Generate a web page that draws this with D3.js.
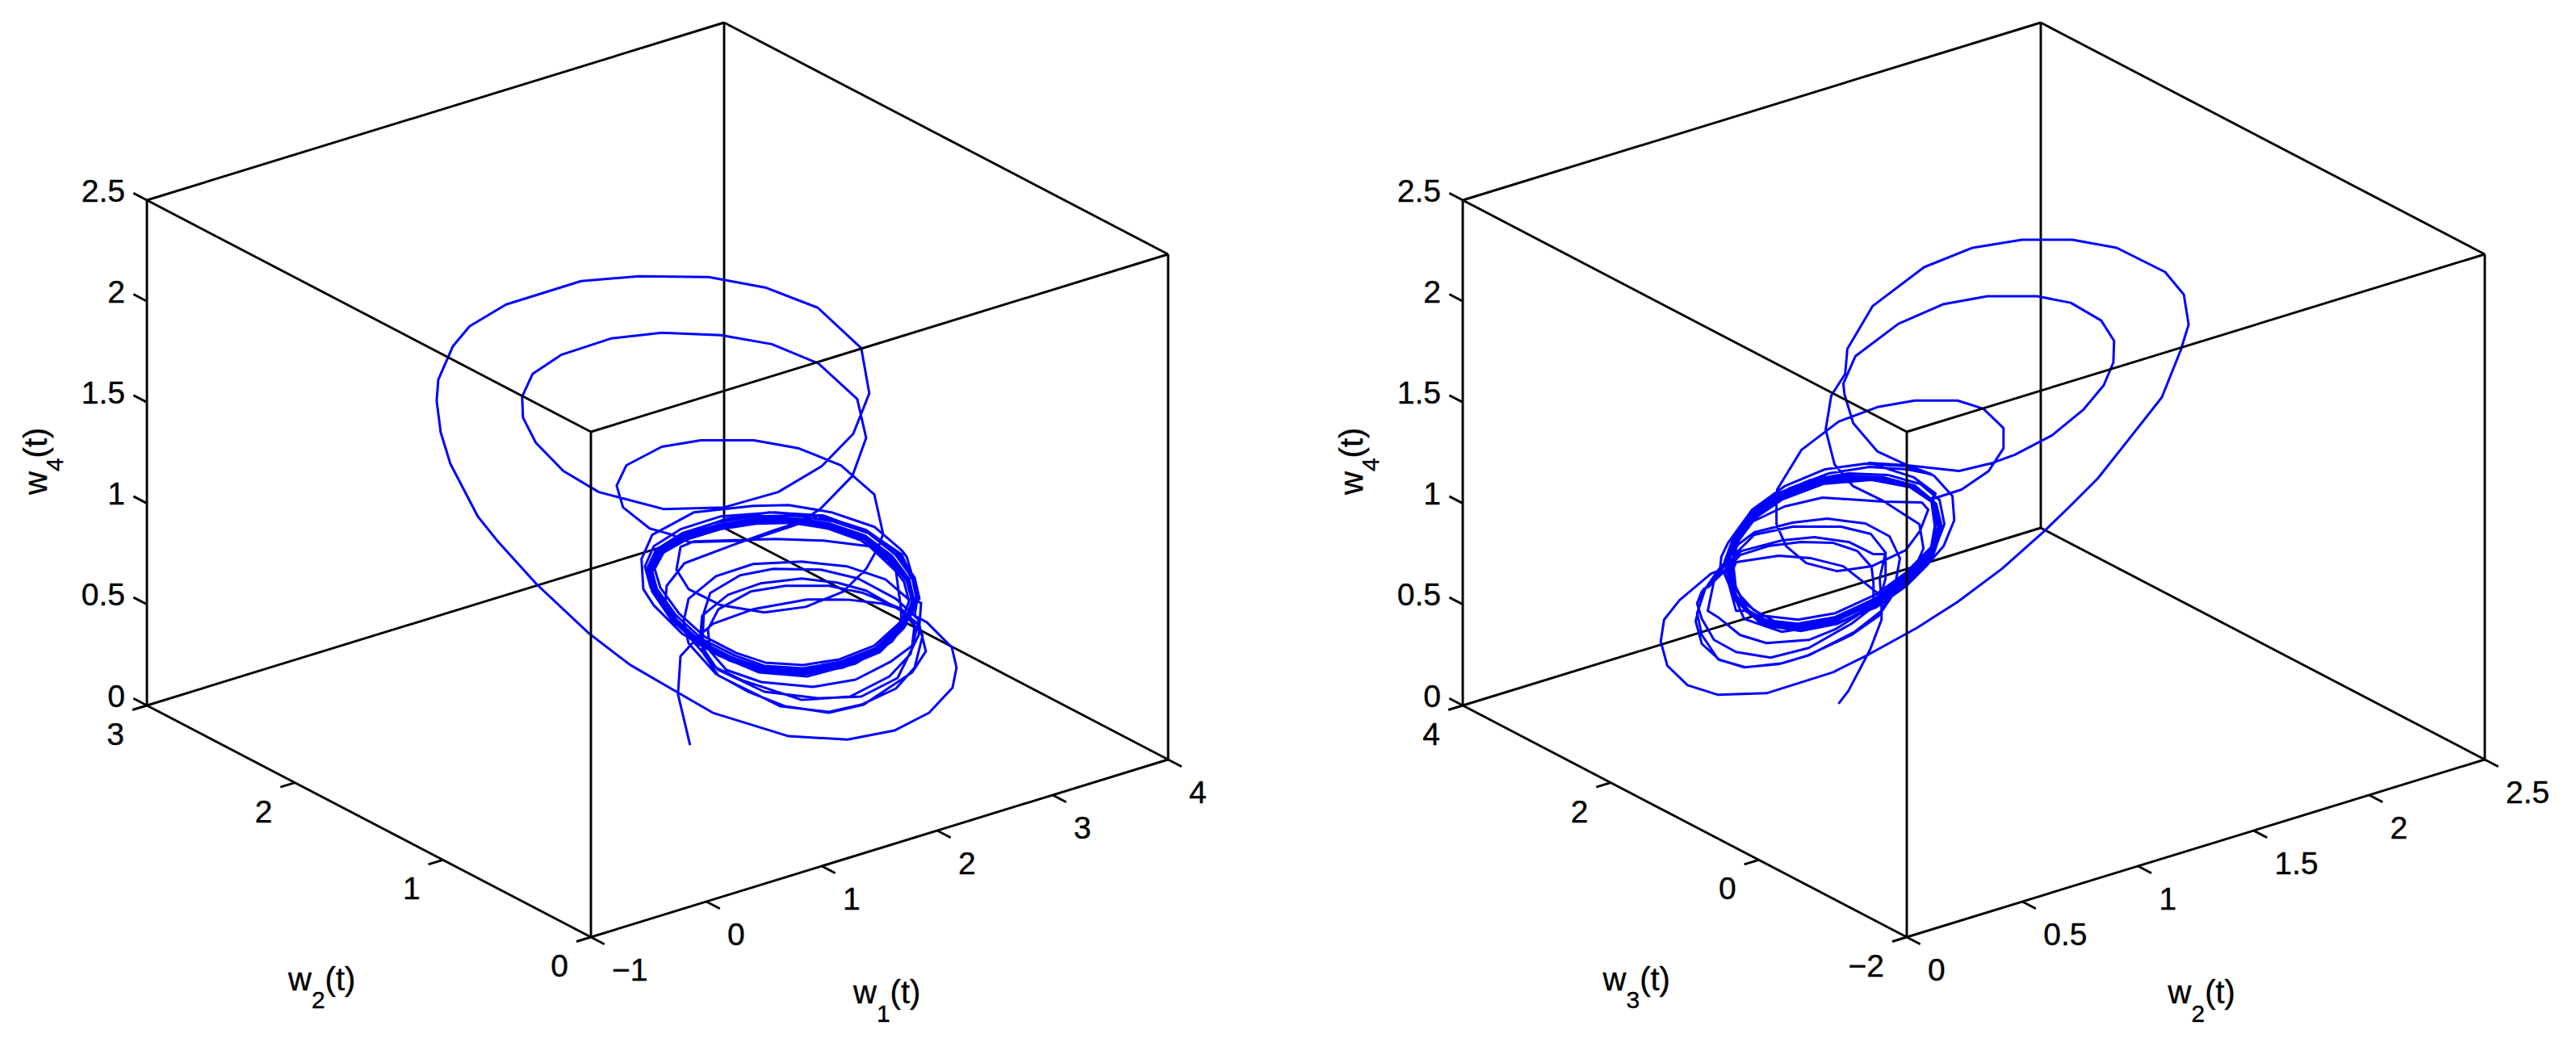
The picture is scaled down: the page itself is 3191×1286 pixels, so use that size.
<!DOCTYPE html>
<html><head><meta charset="utf-8">
<script src="https://cdn.jsdelivr.net/npm/d3@7"></script>
<style>html,body{margin:0;padding:0;background:#fff;overflow:hidden}svg{display:block}text{font-family:"Liberation Sans",Arial,sans-serif;fill:#000;stroke:#000;stroke-width:0.4}</style>
</head><body><div id="chart"></div>
<script>
// tick labels / axis domains
const w1Ticks=[-1,0,1,2,3,4], w2TicksLeft=[0,1,2,3], w2TicksRight=[0,0.5,1,1.5,2,2.5], w3Ticks=[-2,0,2,4], w4Ticks=[0,0.5,1,1.5,2,2.5];

// left panel trajectory, rows are [w1, w2, w4]
const leftStart=[[1.478,1.263,0.032],[1.412,1.293,0.284],[1.426,1.287,0.472],[1.531,1.239,0.576],[1.602,1.206,0.632],[1.822,1.105,0.704],[2.116,0.970,0.752],[2.336,0.868,0.752],[2.526,0.781,0.732],[2.631,0.733,0.704],[2.702,0.700,0.632],[2.688,0.706,0.524],[2.570,0.761,0.444],[2.380,0.848,0.356],[2.147,0.955,0.320],[1.866,1.085,0.344],[1.676,1.172,0.404],[1.588,1.213,0.496]];
const leftLowA=[[1.575,1.218,0.604],[1.632,1.192,0.704],[1.808,1.111,0.792],[1.998,1.024,0.820],[2.235,0.915,0.820],[2.424,0.828,0.784],[2.614,0.741,0.712],[2.719,0.692,0.632],[2.680,0.710,0.484],[2.565,0.763,0.372],[2.350,0.862,0.272],[2.086,0.983,0.256],[1.764,1.132,0.352],[1.619,1.198,0.416],[1.531,1.239,0.536]];
const leftLowB=[[1.544,1.233,0.672],[1.685,1.168,0.776],[1.861,1.087,0.832],[2.086,0.983,0.856],[2.279,0.895,0.836],[2.438,0.822,0.796],[2.631,0.733,0.696],[2.746,0.680,0.576],[2.702,0.700,0.416],[2.600,0.747,0.312],[2.411,0.834,0.232],[2.235,0.915,0.196],[1.971,1.036,0.224],[1.632,1.192,0.376],[1.544,1.233,0.496]];
const leftLowC=[[1.553,1.229,0.684],[1.588,1.213,0.784],[1.751,1.138,0.872],[1.932,1.054,0.904],[2.191,0.935,0.900],[2.394,0.842,0.856],[2.600,0.747,0.756],[2.719,0.692,0.656],[2.763,0.672,0.496],[2.688,0.706,0.392],[2.424,0.828,0.232],[2.235,0.915,0.192],[1.998,1.024,0.224],[1.795,1.117,0.296],[1.619,1.198,0.384],[1.470,1.267,0.536]];
const leftLowD=[[1.443,1.279,0.644],[1.470,1.267,0.756],[1.619,1.198,0.868],[1.822,1.105,0.928],[2.086,0.983,0.940],[2.336,0.868,0.916],[2.543,0.773,0.852],[2.666,0.717,0.756],[2.737,0.684,0.736],[2.724,0.690,0.576],[2.609,0.743,0.364],[2.411,0.834,0.272],[2.174,0.943,0.264],[1.883,1.077,0.296],[1.632,1.192,0.404],[1.465,1.269,0.576]];
const leftRise=[[1.342,1.326,0.712],[1.351,1.322,0.820],[1.448,1.277,0.932],[1.707,1.158,1.020],[1.940,1.051,1.096],[2.174,0.943,1.164],[2.438,0.822,1.096],[2.600,0.747,0.992],[2.702,0.700,0.832],[2.710,0.696,0.752],[2.644,0.727,0.632],[2.499,0.793,0.496],[2.292,0.889,0.424],[2.103,0.976,0.396],[1.822,1.105,0.416],[1.619,1.198,0.504],[1.399,1.299,0.632],[1.289,1.350,0.776],[1.250,1.368,0.896],[1.311,1.340,1.004],[1.470,1.267,1.084],[1.676,1.172,1.152],[1.910,1.064,1.184],[2.204,0.929,1.168],[2.455,0.814,1.084],[2.631,0.733,0.976],[2.719,0.692,0.792],[2.688,0.706,0.684],[2.578,0.757,0.544],[2.380,0.848,0.436],[2.116,0.970,0.372],[1.852,1.091,0.392],[1.632,1.192,0.476],[1.434,1.283,0.584],[1.280,1.354,0.724]];
const leftOuter=[[1.223,1.380,0.804],[1.214,1.385,0.952],[1.272,1.358,1.072],[1.500,1.253,1.184],[1.822,1.105,1.216],[2.015,1.016,1.220],[2.248,0.909,1.184],[2.482,0.801,1.112],[2.631,0.733,0.996],[2.658,0.720,0.964],[2.719,0.692,0.776],[2.702,0.700,0.672]];
const leftBig=[[2.768,0.670,0.640],[2.904,0.607,0.516],[2.930,0.595,0.416],[2.908,0.605,0.316],[2.781,0.664,0.192],[2.592,0.751,0.104],[2.336,0.868,0.060],[2.015,1.016,0.076],[1.602,1.206,0.192],[1.404,1.297,0.296],[1.153,1.413,0.428],[0.928,1.516,0.584],[0.642,1.648,0.828],[0.427,1.747,1.044],[0.321,1.795,1.164],[0.172,1.864,1.424],[0.119,1.888,1.580],[0.097,1.898,1.736],[0.106,1.894,1.840],[0.185,1.858,2.004],[0.277,1.816,2.104],[0.475,1.724,2.212],[0.884,1.536,2.328],[1.197,1.392,2.352],[1.580,1.216,2.348],[1.888,1.075,2.296],[2.174,0.943,2.196],[2.411,0.834,1.996],[2.455,0.814,1.772],[2.367,0.854,1.572],[2.196,0.933,1.412],[1.958,1.042,1.284],[1.663,1.178,1.208],[1.333,1.330,1.200],[0.981,1.492,1.284],[0.788,1.581,1.388],[0.638,1.650,1.528],[0.568,1.682,1.652],[0.563,1.684,1.756],[0.620,1.658,1.868],[0.779,1.585,1.964],[1.047,1.461,2.044],[1.324,1.334,2.072],[1.646,1.186,2.060],[1.923,1.058,2.016],[2.178,0.941,1.920],[2.389,0.844,1.744],[2.438,0.822,1.552],[2.363,0.856,1.364],[2.187,0.937,1.200],[2.050,1.000,1.120],[1.795,1.117,1.044],[1.474,1.265,1.036],[1.368,1.314,1.076],[1.258,1.364,1.104]];
const leftThird=[[1.113,1.431,1.208],[1.078,1.447,1.316],[1.131,1.423,1.416],[1.324,1.334,1.508],[1.536,1.236,1.540],[1.826,1.103,1.540],[2.072,0.990,1.500],[2.301,0.885,1.416],[2.482,0.801,1.272],[2.530,0.779,1.076],[2.499,0.793,1.004],[2.438,0.822,0.904],[2.314,0.879,0.792],[2.108,0.973,0.716],[1.883,1.077,0.688],[1.646,1.186,0.724],[1.470,1.267,0.804],[1.404,1.297,0.900],[1.426,1.287,1.012],[1.500,1.253,1.040],[1.940,1.051,1.052],[2.204,0.929,1.044],[2.455,0.814,1.016],[2.600,0.747,0.892],[2.627,0.735,0.712]];
const leftBandA=[[2.631,0.733,0.616],[2.499,0.793,0.504],[2.301,0.885,0.432],[2.094,0.980,0.400],[1.883,1.077,0.412],[1.712,1.155,0.464],[1.536,1.236,0.544],[1.390,1.304,0.664],[1.289,1.350,0.796],[1.258,1.364,0.896],[1.311,1.340,0.992],[1.448,1.277,1.068],[1.624,1.196,1.120],[1.830,1.101,1.152],[2.037,1.006,1.156],[2.240,0.913,1.128],[2.433,0.824,1.068],[2.578,0.757,0.968],[2.671,0.714,0.856],[2.697,0.702,0.752]];
const leftBandB=[[2.644,0.727,0.612],[2.512,0.787,0.492],[2.314,0.879,0.416],[2.103,0.976,0.384],[1.874,1.081,0.396],[1.698,1.162,0.448],[1.522,1.243,0.532],[1.373,1.311,0.656],[1.272,1.358,0.792],[1.241,1.372,0.900],[1.294,1.348,1.000],[1.434,1.283,1.080],[1.615,1.200,1.132],[1.826,1.103,1.164],[2.042,1.004,1.168],[2.253,0.907,1.140],[2.451,0.816,1.080],[2.596,0.749,0.976],[2.688,0.706,0.860],[2.715,0.694,0.744]];
const leftBandC=[[2.622,0.737,0.608],[2.486,0.799,0.492],[2.292,0.889,0.420],[2.090,0.982,0.388],[1.888,1.075,0.400],[1.720,1.152,0.452],[1.544,1.233,0.532],[1.404,1.297,0.652],[1.302,1.344,0.784],[1.272,1.358,0.892],[1.324,1.334,0.980],[1.461,1.271,1.056],[1.632,1.192,1.108],[1.839,1.097,1.140],[2.033,1.008,1.144],[2.231,0.917,1.116],[2.420,0.830,1.056],[2.565,0.763,0.956],[2.658,0.720,0.844],[2.688,0.706,0.744]];
const leftBandD=[[2.653,0.723,0.624],[2.521,0.783,0.504],[2.323,0.874,0.424],[2.112,0.971,0.392],[1.874,1.081,0.408],[1.690,1.166,0.464],[1.509,1.249,0.552],[1.360,1.317,0.676],[1.263,1.362,0.812],[1.232,1.376,0.916],[1.280,1.354,1.016],[1.426,1.287,1.100],[1.646,1.186,1.164],[1.940,1.051,1.184],[2.204,0.929,1.164],[2.438,0.822,1.096],[2.609,0.743,0.984],[2.702,0.700,0.860],[2.728,0.688,0.756]];
const leftBandF=[[2.614,0.741,0.632],[2.482,0.801,0.524],[2.292,0.889,0.456],[2.094,0.980,0.428],[1.888,1.075,0.440],[1.729,1.148,0.488],[1.558,1.226,0.568],[1.417,1.291,0.684],[1.316,1.338,0.812],[1.285,1.352,0.904],[1.333,1.330,0.984],[1.465,1.269,1.052],[1.637,1.190,1.100],[1.839,1.097,1.128],[2.033,1.008,1.132],[2.226,0.919,1.104],[2.411,0.834,1.044],[2.556,0.767,0.948],[2.644,0.727,0.840],[2.671,0.714,0.744]];
const leftBandG=[[2.622,0.737,0.624],[2.490,0.798,0.512],[2.297,0.886,0.444],[2.094,0.980,0.412],[1.883,1.077,0.424],[1.720,1.152,0.476],[1.544,1.233,0.556],[1.399,1.299,0.676],[1.298,1.346,0.804],[1.267,1.360,0.900],[1.320,1.336,0.988],[1.456,1.273,1.060],[1.628,1.194,1.112],[1.835,1.099,1.136],[2.037,1.006,1.140],[2.235,0.915,1.112],[2.424,0.828,1.052],[2.570,0.761,0.952],[2.662,0.718,0.844],[2.688,0.706,0.748]];
const leftBandE=[[2.636,0.730,0.612],[2.504,0.791,0.500],[2.306,0.882,0.428],[2.099,0.978,0.396],[1.879,1.079,0.404],[1.707,1.158,0.456],[1.531,1.239,0.540],[1.386,1.305,0.660],[1.285,1.352,0.792],[1.254,1.366,0.892],[1.307,1.342,0.988],[1.443,1.279,1.064],[1.619,1.198,1.116],[1.830,1.101,1.144],[2.037,1.006,1.148],[2.240,0.913,1.120],[2.429,0.826,1.060],[2.574,0.759,0.960],[2.666,0.717,0.848],[2.693,0.704,0.748],[2.627,0.735,0.604],[2.495,0.795,0.496],[2.297,0.886,0.424],[2.094,0.980,0.392]];

// right panel trajectory, rows are [w2, w3, w4]
const rightStart=[[0.783,1.368,0.236],[0.810,1.319,0.300],[0.869,1.210,0.504],[0.900,1.153,0.652],[0.900,1.153,0.736],[0.895,1.162,0.856],[0.911,1.133,0.984],[0.871,1.206,1.076],[0.790,1.355,1.112],[0.658,1.598,1.112],[0.554,1.790,1.072],[0.510,1.871,0.992],[0.482,1.922,0.912],[0.444,1.992,0.844],[0.427,2.023,0.696],[0.455,1.972,0.664],[0.515,1.861,0.576],[0.587,1.729,0.536],[0.702,1.517,0.552],[0.774,1.385,0.604],[0.834,1.275,0.672],[0.878,1.193,0.736]];
const rightLowA=[[0.878,1.193,0.832],[0.873,1.203,0.912],[0.834,1.275,0.992],[0.768,1.396,1.032],[0.680,1.558,1.036],[0.592,1.720,1.016],[0.515,1.861,0.972],[0.475,1.935,0.896],[0.438,2.003,0.832],[0.411,2.053,0.792],[0.398,2.077,0.732],[0.411,2.053,0.656],[0.444,1.992,0.552],[0.504,1.882,0.492],[0.598,1.709,0.464],[0.702,1.517,0.512],[0.818,1.304,0.632],[0.893,1.166,0.736],[0.911,1.133,0.856],[0.911,1.133,0.976]];
const rightLowB=[[0.878,1.193,0.976],[0.812,1.315,1.036],[0.717,1.490,1.060],[0.629,1.652,1.044],[0.519,1.854,0.992],[0.475,1.935,0.924],[0.431,2.016,0.816],[0.416,2.044,0.804],[0.394,2.084,0.644],[0.411,2.053,0.532],[0.460,1.963,0.452],[0.530,1.834,0.416],[0.629,1.652,0.436],[0.702,1.517,0.476],[0.827,1.287,0.592],[0.900,1.153,0.696],[0.939,1.081,0.844],[0.950,1.061,0.956]];
const rightLowC=[[0.922,1.113,1.064],[0.856,1.234,1.128],[0.752,1.425,1.152],[0.658,1.598,1.132],[0.554,1.790,1.084],[0.510,1.871,1.024],[0.482,1.922,0.952],[0.455,1.972,0.896],[0.420,2.036,0.804],[0.398,2.077,0.684],[0.411,2.053,0.576],[0.455,1.972,0.456],[0.526,1.841,0.416],[0.620,1.668,0.432],[0.695,1.530,0.472],[0.818,1.304,0.576],[0.893,1.166,0.672],[0.937,1.085,0.792]];
const rightLowD=[[0.889,1.173,0.784],[0.796,1.344,0.916],[0.708,1.506,0.956],[0.620,1.668,0.968],[0.504,1.882,0.936],[0.482,1.922,0.844],[0.504,1.882,0.696],[0.532,1.830,0.696],[0.592,1.720,0.644],[0.673,1.571,0.616],[0.774,1.385,0.656],[0.878,1.193,0.752],[0.966,1.032,0.864],[1.032,0.910,0.992],[1.054,0.870,1.112],[1.038,0.899,1.232],[0.988,0.991,1.312],[0.906,1.142,1.352],[0.805,1.328,1.356],[0.702,1.517,1.324],[0.614,1.679,1.256],[0.548,1.801,1.164],[0.497,1.894,1.032],[0.477,1.931,0.936],[0.482,1.922,0.856],[0.497,1.894,0.776]];
const rightOuter=[[0.526,1.841,0.656],[0.629,1.652,0.592],[0.774,1.385,0.632],[0.884,1.182,0.712],[0.966,1.032,0.816],[1.025,0.923,0.924],[1.069,0.842,1.016],[1.098,0.789,1.144],[1.093,0.798,1.264],[1.043,0.890,1.364],[0.966,1.032,1.412],[0.856,1.234,1.424],[0.746,1.436,1.396],[0.636,1.639,1.312],[0.548,1.801,1.196],[0.482,1.922,1.032],[0.464,1.955,0.964],[0.460,1.963,0.896]];
const rightBig=[[0.436,2.007,0.880],[0.350,2.165,0.748],[0.308,2.242,0.652],[0.299,2.259,0.544],[0.317,2.226,0.424],[0.372,2.125,0.328],[0.455,1.972,0.280],[0.587,1.729,0.288],[0.768,1.396,0.392],[0.865,1.217,0.480],[0.997,0.975,0.612],[1.107,0.772,0.740],[1.228,0.550,0.904],[1.344,0.336,1.092],[1.410,0.215,1.208],[1.489,0.069,1.352],[1.571,-0.082,1.540],[1.663,-0.251,1.752],[1.714,-0.345,1.984],[1.736,-0.385,2.112],[1.723,-0.361,2.260],[1.672,-0.267,2.372],[1.540,-0.025,2.492],[1.419,0.198,2.532],[1.283,0.448,2.532],[1.148,0.697,2.492],[1.016,0.940,2.396],[0.876,1.197,2.204],[0.807,1.324,1.992],[0.801,1.335,1.868],[0.763,1.405,1.760],[0.748,1.433,1.592],[0.772,1.388,1.420],[0.823,1.295,1.312],[0.904,1.146,1.240],[1.003,0.963,1.124],[1.014,0.943,1.004],[0.988,0.991,0.896],[0.959,1.044,0.816]];
const rightBridge=[[0.878,1.193,0.732],[0.774,1.385,0.644],[0.669,1.578,0.604],[0.570,1.760,0.636],[0.504,1.882,0.744],[0.473,1.939,0.876],[0.493,1.902,1.036],[0.559,1.780,1.188],[0.647,1.619,1.300],[0.757,1.416,1.376],[0.867,1.214,1.408],[0.970,1.024,1.396],[1.036,0.903,1.372]];
const rightSecond=[[0.970,1.024,1.416],[0.889,1.173,1.484],[0.823,1.295,1.624],[0.799,1.339,1.768],[0.796,1.344,1.820],[0.829,1.284,1.956],[0.946,1.068,2.116],[1.067,0.846,2.212],[1.188,0.623,2.252],[1.324,0.373,2.252],[1.415,0.205,2.220],[1.498,0.053,2.132],[1.533,-0.012,2.032],[1.531,-0.008,1.924],[1.505,0.040,1.812],[1.450,0.141,1.692],[1.364,0.299,1.564],[1.263,0.485,1.468],[1.203,0.595,1.428],[1.111,0.765,1.388],[0.970,1.024,1.416],[0.865,1.217,1.428],[0.988,0.991,1.356],[1.047,0.882,1.276],[1.036,0.903,1.248]];
const rightThird=[[1.118,0.752,1.296],[1.192,0.616,1.388],[1.232,0.542,1.500],[1.232,0.542,1.600],[1.177,0.643,1.696],[1.107,0.772,1.736],[0.990,0.987,1.736],[0.889,1.173,1.704],[0.783,1.368,1.632],[0.682,1.554,1.492],[0.616,1.676,1.296],[0.614,1.679,1.232],[0.614,1.679,1.124],[0.640,1.631,1.016],[0.695,1.530,0.932],[0.779,1.376,0.892],[0.873,1.203,0.916],[0.966,1.032,0.996],[1.005,0.960,1.092],[1.027,0.919,1.196],[1.010,0.951,1.232],[0.906,1.142,1.236],[0.739,1.449,1.256],[0.636,1.639,1.212],[0.543,1.810,1.132],[0.504,1.882,1.032]];
const rightBandA=[[0.484,1.918,0.844],[0.499,1.891,0.764],[0.535,1.825,0.688],[0.594,1.716,0.636],[0.675,1.567,0.608],[0.777,1.379,0.648],[0.878,1.193,0.744],[0.968,1.028,0.860],[1.034,0.906,0.988],[1.058,0.862,1.112],[1.043,0.890,1.236],[0.990,0.987,1.316],[0.906,1.142,1.356],[0.805,1.328,1.364],[0.702,1.517,1.332],[0.612,1.683,1.264],[0.543,1.810,1.172],[0.493,1.902,1.040],[0.473,1.939,0.940]];
const rightBandB=[[0.491,1.906,0.836],[0.508,1.874,0.756],[0.543,1.810,0.676],[0.598,1.709,0.620],[0.680,1.558,0.596],[0.781,1.372,0.632],[0.882,1.186,0.724],[0.975,1.015,0.844],[1.041,0.894,0.972],[1.065,0.849,1.104],[1.049,0.879,1.224],[0.997,0.975,1.304],[0.911,1.133,1.344],[0.807,1.324,1.348],[0.706,1.510,1.320],[0.618,1.672,1.252],[0.552,1.793,1.160],[0.502,1.885,1.028],[0.482,1.922,0.932]];
const rightBandC=[[0.495,1.898,0.844],[0.515,1.861,0.772],[0.552,1.793,0.700],[0.609,1.688,0.644],[0.686,1.547,0.624],[0.785,1.365,0.664],[0.887,1.177,0.756],[0.979,1.008,0.876],[1.045,0.886,1.004],[1.071,0.838,1.124],[1.058,0.862,1.244],[1.005,0.960,1.324],[0.917,1.122,1.368],[0.812,1.315,1.376],[0.708,1.506,1.344],[0.618,1.672,1.276],[0.548,1.801,1.180],[0.497,1.894,1.048],[0.477,1.931,0.948]];
const rightBandE=[[0.497,1.894,0.912],[0.504,1.882,0.804],[0.526,1.841,0.736],[0.576,1.749,0.672],[0.673,1.571,0.652],[0.774,1.385,0.684],[0.884,1.182,0.776],[0.966,1.032,0.884],[1.038,0.899,1.016],[1.047,0.882,1.124],[1.038,0.899,1.244],[0.981,1.004,1.316],[0.871,1.206,1.352],[0.739,1.449,1.332],[0.629,1.652,1.256],[0.554,1.790,1.164],[0.504,1.882,1.044]];
const rightBandF=[[0.491,1.906,0.900],[0.499,1.891,0.784],[0.521,1.850,0.716],[0.574,1.753,0.652],[0.671,1.574,0.632],[0.772,1.388,0.664],[0.882,1.186,0.756],[0.966,1.032,0.872],[1.034,0.906,1.000],[1.045,0.886,1.116],[1.036,0.903,1.236],[0.977,1.011,1.308],[0.873,1.203,1.344],[0.741,1.445,1.324],[0.631,1.648,1.248],[0.557,1.784,1.156],[0.508,1.874,1.036]];
const rightBandD=[[0.486,1.915,0.852],[0.504,1.882,0.772],[0.539,1.817,0.696],[0.596,1.712,0.640],[0.678,1.562,0.612],[0.779,1.376,0.652],[0.880,1.190,0.736],[0.970,1.024,0.852],[1.036,0.903,0.980],[1.060,0.859,1.108],[1.045,0.886,1.228],[0.992,0.984,1.308],[0.909,1.136,1.348],[0.807,1.324,1.356],[0.704,1.514,1.324],[0.616,1.676,1.260],[0.548,1.801,1.168],[0.497,1.894,1.036],[0.480,1.926,0.940]];

const leftTrace=[].concat(leftStart,leftLowA,leftLowB,leftLowC,leftLowD,leftRise,leftOuter,leftBig,leftThird,leftBandA,leftBandB,leftBandC,leftBandD,leftBandF,leftBandG,leftBandE);
const rightTrace=[].concat(rightStart,rightLowA,rightLowB,rightLowC,rightLowD,rightOuter,rightBig,rightBridge,rightSecond,rightThird,rightBandA,rightBandB,rightBandC,rightBandE,rightBandF,rightBandD);

const W=3191,H=1286,h3=626,tickLen=[16.7,8.7],tickX=[18,5.5];
const svg=d3.select("#chart").append("svg").attr("width",W).attr("height",H).style("background","#fff");

function panel(cfg){
  const g=svg.append("g");
  const fx=d3.scaleLinear().domain(cfg.xDom).range([0,1]);
  const fy=d3.scaleLinear().domain(cfg.yDom).range([0,1]);
  const fz=d3.scaleLinear().domain([0,2.5]).range([0,h3]);
  const F=cfg.F,R=cfg.R,L=cfg.L;
  const P=(x,y,z)=>[F[0]+fx(x)*(R[0]-F[0])+fy(y)*(L[0]-F[0]),
                    F[1]+fx(x)*(R[1]-F[1])+fy(y)*(L[1]-F[1])-fz(z)];
  const [x0,x1]=cfg.xDom,[y0,y1]=cfg.yDom;
  const black=(a,b,w)=>g.append("line").attr("x1",a[0]).attr("y1",a[1]).attr("x2",b[0]).attr("y2",b[1]).attr("stroke","#000").attr("stroke-width",w||2.9);
  // rear edges (below the curve)
  black(P(x0,y1,0),P(x1,y1,0)); black(P(x1,y0,0),P(x1,y1,0));
  black(P(x1,y1,0),P(x1,y1,2.5));
  black(P(x0,y1,2.5),P(x1,y1,2.5)); black(P(x1,y0,2.5),P(x1,y1,2.5));
  black(P(x0,y1,0),P(x0,y1,2.5)); black(P(x1,y0,0),P(x1,y0,2.5));
  // curve
  g.append("path").datum(cfg.trace).attr("fill","none").attr("stroke","#0000ff").attr("stroke-width",3).attr("stroke-linejoin","round")
    .attr("d",d3.line().x(d=>P(d[0],d[1],d[2])[0]).y(d=>P(d[0],d[1],d[2])[1]));
  // front edges (above the curve)
  black(P(x0,y0,0),P(x0,y0,2.5));
  black(P(x0,y0,2.5),P(x0,y1,2.5)); black(P(x0,y0,2.5),P(x1,y0,2.5));
  black(P(x0,y0,0),P(x0,y1,0)); black(P(x0,y0,0),P(x1,y0,0));
  const fmt=v=>String(v).replace("-","\u2212");
  const txt=(x,y,s,anchor)=>g.append("text").attr("x",x).attr("y",y).attr("text-anchor",anchor).attr("font-size",39).text(s);
  cfg.xTicks.forEach(v=>{const p=P(v,y0,0);black(p,[p[0]+tickLen[0],p[1]+tickLen[1]]);txt(p[0]+26,p[1]+54,fmt(v),"start");});
  cfg.yTicks.forEach(v=>{const p=P(x0,v,0);black(p,[p[0]-tickX[0],p[1]+tickX[1]]);txt(p[0]-28,p[1]+49,fmt(v),"end");});
  w4Ticks.forEach(v=>{const p=P(x0,y1,v);black(p,[p[0]-tickLen[0],p[1]-tickLen[1]]);txt(p[0]-27,p[1]+1.5,fmt(v),"end");});
  const title=(x,y,sub,rot)=>{
    const t=g.append("text").attr("font-size",40).attr("transform",`translate(${x},${y})`+(rot?" rotate(-90)":""));
    t.append("tspan").text("w");
    t.append("tspan").attr("font-size",30).attr("dy",rot?20:22.5).text(sub);
    t.append("tspan").attr("dy",rot?-20:-22.5).text("(t)");
  };
  title(cfg.xTitle[0],cfg.xTitle[1],cfg.xSub);
  title(cfg.yTitle[0],cfg.yTitle[1],cfg.ySub);
  title(cfg.zTitle[0],cfg.zTitle[1],"4",true);
}

panel({F:[732,1161],R:[1447,941],L:[182,874],xDom:[-1,4],yDom:[0,3],xTicks:w1Ticks,yTicks:w2TicksLeft,trace:leftTrace,
  xTitle:[1057,1243],xSub:"1",yTitle:[357,1226.7],ySub:"2",zTitle:[58.3,613]});
panel({F:[2362,1161],R:[3078,941],L:[1812,874],xDom:[0,2.5],yDom:[-2,4],xTicks:w2TicksRight,yTicks:w3Ticks,trace:rightTrace,
  xTitle:[2685.6,1243],xSub:"2",yTitle:[1985.6,1226.7],ySub:"3",zTitle:[1688.3,613]});
</script></body></html>
